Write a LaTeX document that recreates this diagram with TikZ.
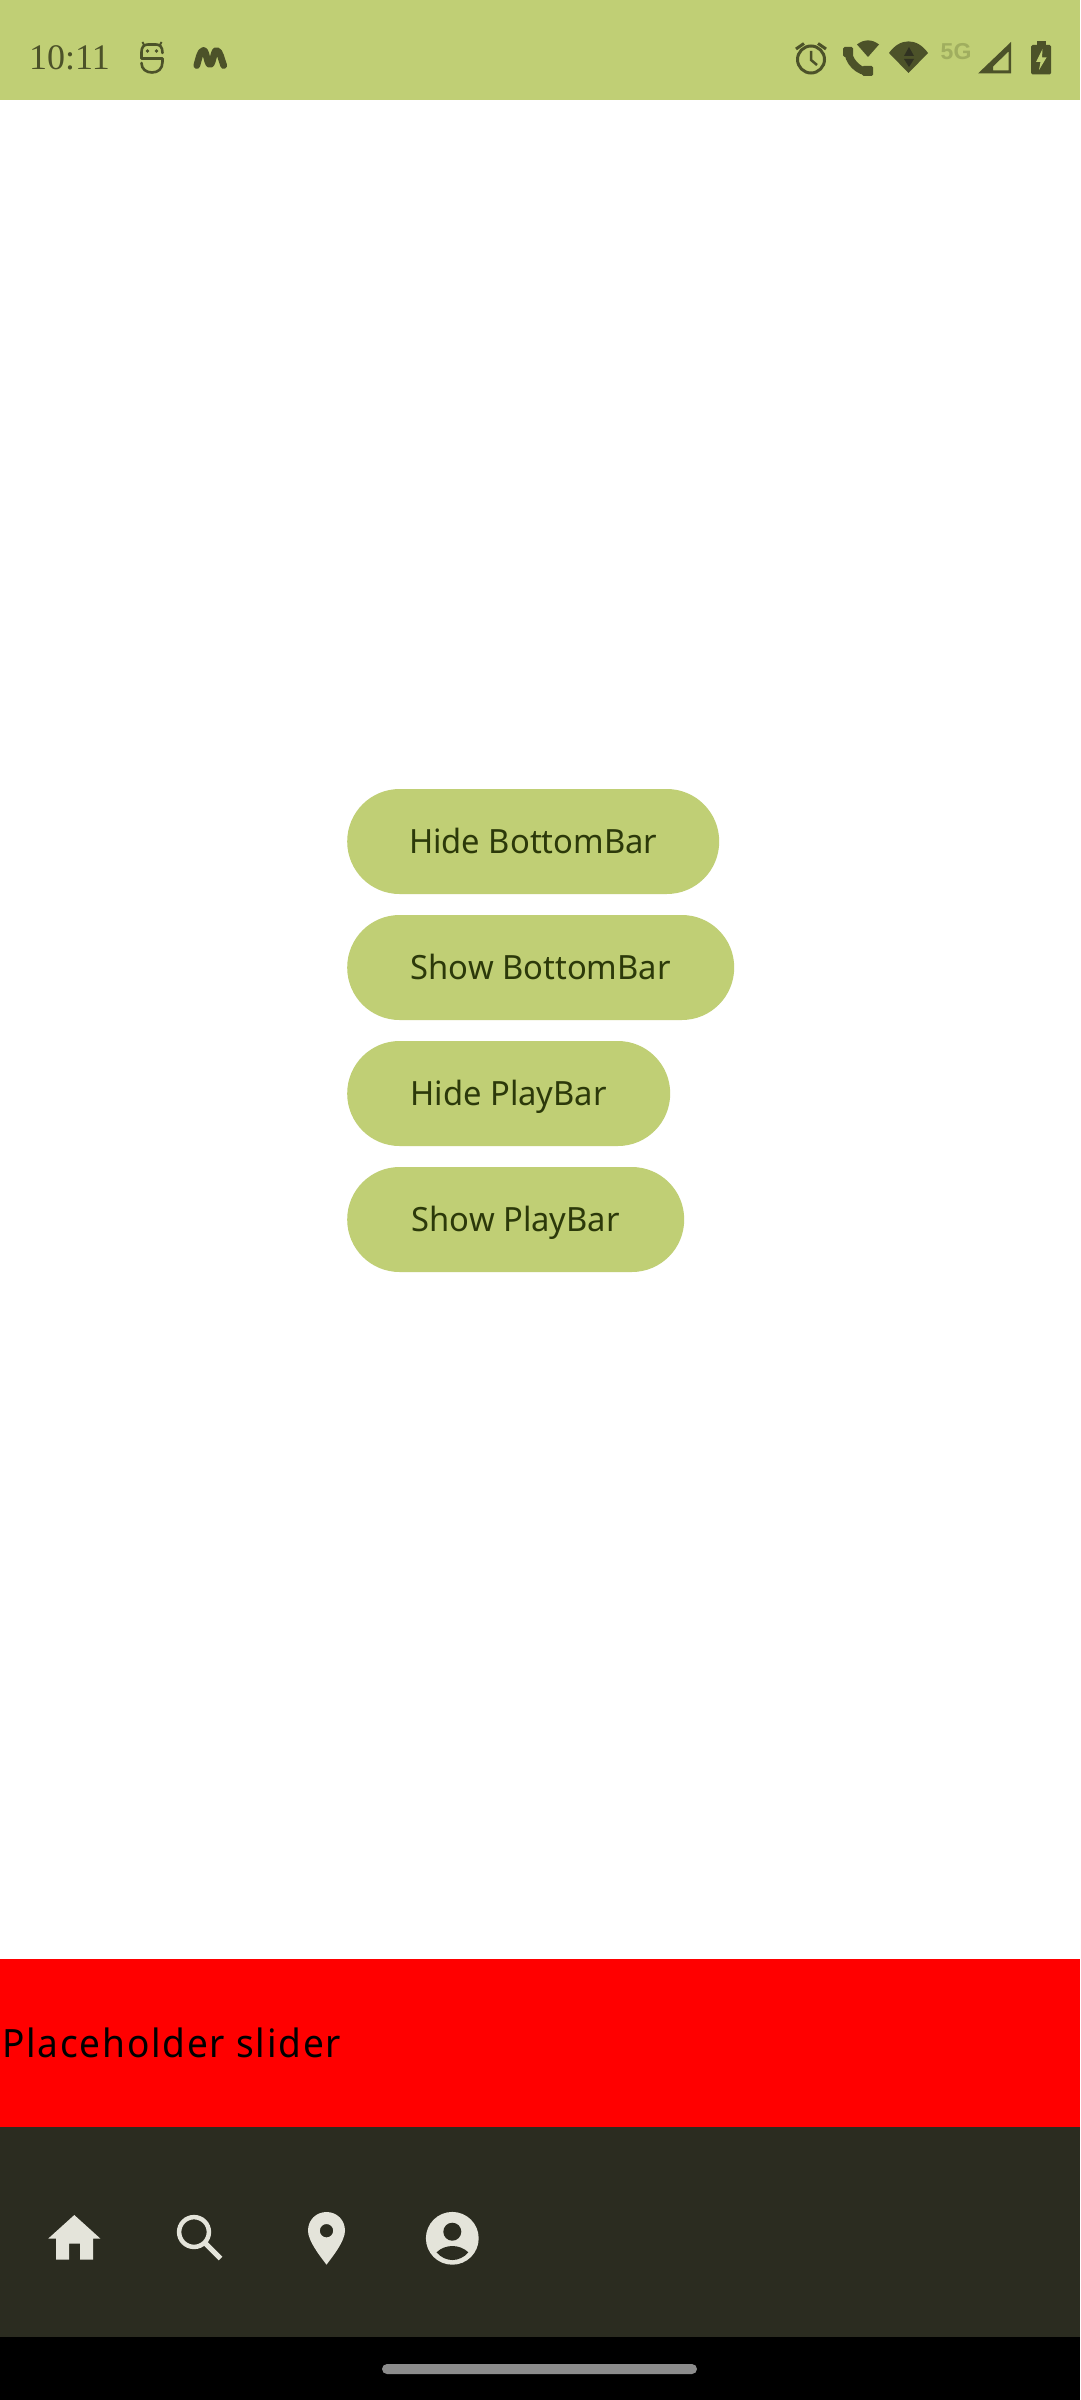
\documentclass[tikz,border=0pt]{standalone}
\usepackage{fontspec}
\setmainfont{Noto Sans}
\newfontfamily\labelfont[FakeStretch=0.98]{Noto Sans}
\newfontfamily\slidefont[LetterSpace=4.5,FakeStretch=0.95]{Noto Sans}
\newfontfamily\clockfont{Liberation Serif}
\newfontfamily\netfont{Liberation Sans}
\definecolor{lime}{HTML}{C0CF75}
\definecolor{limetext}{HTML}{2C390A}
\definecolor{statusink}{HTML}{4C5229}
\definecolor{statusdim}{HTML}{A0AE5F}
\definecolor{navbar}{HTML}{2B2C20}
\definecolor{navicon}{HTML}{E4E4DA}
\definecolor{handle}{HTML}{8C8C8C}
\tikzset{
  x=1pt,y=-1pt,
  pillbutton/.style={fill=lime,rounded corners=52.4pt,inner sep=0pt,minimum height=105pt,anchor=west,
    text height=24pt,text depth=0pt,
    text=limetext,font=\labelfont\fontsize{33.4}{40}\selectfont},
  inkline/.style={draw=statusink,line width=3pt,fill=none},
  navfill/.style={fill=navicon,draw=none},
}
\begin{document}
\begin{tikzpicture}
\useasboundingbox (0,0) rectangle (1080,2400);
% bands
\fill[white] (0,0) rectangle (1080,2400);
\fill[lime] (0,0) rectangle (1080,100);
\fill[red] (0,1959) rectangle (1080,2127);
\fill[navbar] (0,2127) rectangle (1080,2337);
\fill[black] (0,2337) rectangle (1080,2400);
\fill[handle,rounded corners=5pt] (382,2364) rectangle (697,2374);
% buttons
\node[pillbutton,minimum width=372pt] (hb) at (347,841.5) {Hide BottomBar};
\node[pillbutton,minimum width=387pt] (sb) at (347,967.5) {Show BottomBar};
\node[pillbutton,minimum width=323pt] (hp) at (347,1093.5) {Hide PlayBar};
\node[pillbutton,minimum width=337pt] (sp) at (347,1219.5) {Show PlayBar};
% slider text
\node[anchor=base west,inner sep=0pt,text=black,font=\slidefont\fontsize{39}{46}\selectfont] (ph) at (2,2057) {Placeholder slider};
% clock
\node[anchor=base west,inner sep=0pt,text=statusink,font=\clockfont\fontsize{36}{40}\selectfont] (clock) at (29,70) {10:11};
% robot icon
\draw[inkline,line width=2.6pt,line cap=round,line join=round] (162.5,53) .. controls (162.5,47) and (160,44.5) .. (156,44.5) -- (148,44.5) .. controls (144,44.5) and (141.5,47) .. (141.5,52) -- (141.5,58.5) -- (162.5,58.5) -- (162.5,62) .. controls (162.5,69) and (158,72.5) .. (152,72.5) .. controls (146,72.5) and (141.5,69) .. (141.5,63);
\draw[inkline,line width=2pt] (144,45) -- (142.5,42) (160,45) -- (161.5,42);
\fill[statusink] (147.5,51) circle (1.8) (156.5,51) circle (1.8);
% M icon
\draw[statusink,line width=6.8pt,line cap=round,line join=round] (196.8,65.5) .. controls (198.5,60) and (200,50.5) .. (203.5,50.5) .. controls (206.5,50.5) and (207,64.5) .. (210,64.5) .. controls (213,64.5) and (213.5,50.5) .. (216.5,50.5) .. controls (220,50.5) and (221.5,60) .. (223.7,65.5);
% alarm
\draw[inkline] (811,59.5) circle (13.5);
\draw[inkline,line width=2.5pt] (811,51) -- (811,60) -- (817,65);
\draw[inkline,line width=3pt] (796,49) -- (804,43.5) (826,49) -- (818,43.5);
% call
\fill[statusink] (844,49) .. controls (844,64) and (856,76) .. (871,76) -- (871,68) .. controls (864,70) and (853,61) .. (852,52) -- cycle;
\fill[statusink,rounded corners=1.5pt] (843,47) rectangle (853,57);
\fill[statusink,rounded corners=1.5pt] (862,66) rectangle (873,76);
\fill[statusink] (857,44.5) .. controls (864,39) and (872,39) .. (879,44.5) -- (868,57) -- cycle;
% wifi
\fill[statusink] (889,53) .. controls (900,37.5) and (917,37.5) .. (928,53) -- (908.5,73) -- cycle;
\fill[navbar!85!statusink] (909,47) -- (904,56) -- (914,56) -- cycle (909,67) -- (904,59) -- (914,59) -- cycle;
% 5G
\node[anchor=base west,inner sep=0pt,text=statusdim,font=\netfont\bfseries\fontsize{23}{24}\selectfont] (net) at (940.5,59.5) {5G};
% signal
\fill[statusink,even odd rule] (978,73.5) -- (1011,42) -- (1011,73.5) -- cycle (993,70.5) -- (1008.5,70.5) -- (1008.5,51.5) -- (993,66.5) -- cycle;
% battery
\fill[statusink,rounded corners=1.5pt] (1031,45) rectangle (1051,74.5);
\fill[statusink] (1037,41.5) rectangle (1046,46);
\fill[lime] (1042.5,49) -- (1036,62) -- (1040.5,62) -- (1039,70) -- (1046.5,57.5) -- (1042,57.5) -- cycle;
% home
\fill[navfill] (74.3,2215) -- (100.3,2238.5) -- (93,2238.5) -- (93,2259.5) -- (80,2259.5) -- (80,2243.7) -- (69,2243.7) -- (69,2259.5) -- (56,2259.5) -- (56,2238.5) -- (48.3,2238.5) -- cycle;
% search
\draw[navicon,line width=4.5pt] (194,2232) circle (14.9);
\draw[navicon,line width=5pt] (205.5,2243.5) -- (220.5,2258.5);
% pin
\fill[navicon,even odd rule] (326.5,2264.7) .. controls (320,2256) and (308,2241) .. (308,2230.7) .. controls (308,2220) and (316,2212) .. (326.5,2212) .. controls (337,2212) and (345,2220) .. (345,2230.7) .. controls (345,2241) and (333,2256) .. (326.5,2264.7) -- cycle (326.5,2230.7) circle (6.7);
% person
\fill[navicon] (452.3,2238.3) circle (26.4);
\fill[navbar] (452.3,2231.7) circle (9);
\fill[navbar] (436.5,2252.3) .. controls (441,2248) and (447,2246) .. (452.3,2246) .. controls (458,2246) and (464,2248) .. (468.3,2252.3) .. controls (464,2257.5) and (458,2260) .. (452.3,2260) .. controls (447,2260) and (441,2257.5) .. (436.5,2252.3) -- cycle;
\end{tikzpicture}
\end{document}
